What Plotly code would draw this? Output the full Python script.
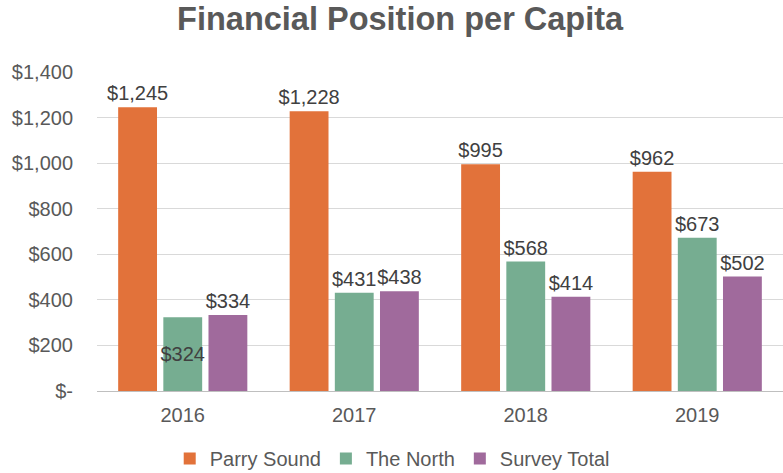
import plotly.graph_objects as go

years = ["2016", "2017", "2018", "2019"]
parry_sound = [1245, 1228, 995, 962]
the_north = [324, 431, 568, 673]
survey_total = [334, 438, 414, 502]
series_names = ["Parry Sound", "The North", "Survey Total"]
colors = ["#E2723A", "#76AD91", "#A06A9C"]
north_textpos = ["inside", "outside", "outside", "outside"]

y_tickvals = [0, 200, 400, 600, 800, 1000, 1200, 1400]
y_ticktext = ["$-", "$200", "$400", "$600", "$800", "$1,000", "$1,200", "$1,400"]

font_family = "Liberation Sans, Arial, sans-serif"
text_color = "#404040"

fig = go.Figure()
for name, vals, col, tp in [
    (series_names[0], parry_sound, colors[0], "outside"),
    (series_names[1], the_north, colors[1], north_textpos),
    (series_names[2], survey_total, colors[2], "outside"),
]:
    fig.add_trace(go.Bar(
        x=years, y=vals, name=name,
        marker=dict(color=col, line=dict(width=0)),
        text=[f"${v:,}" for v in vals],
        textposition=tp,
        insidetextanchor="middle",
        textangle=0,
        constraintext="none",
        textfont=dict(family=font_family, size=20, color=text_color),
        outsidetextfont=dict(family=font_family, size=20, color=text_color),
        insidetextfont=dict(family=font_family, size=20, color=text_color),
        cliponaxis=False,
    ))

fig.update_layout(
    width=783, height=473,
    margin=dict(l=97, r=0, t=72, b=82),
    paper_bgcolor="white", plot_bgcolor="white",
    barmode="group", bargap=0.21, bargroupgap=0.14,
    title=dict(text="<b>Financial Position per Capita</b>", x=0.511, xanchor="center",
               yref="container", y=0.961, yanchor="middle",
               font=dict(family=font_family, size=32.5, color="#595959")),
    font=dict(family=font_family, color="#595959"),
    xaxis=dict(showline=True, linecolor="#BFBFBF", linewidth=1, ticks="",
               ticklabelstandoff=6,
               tickfont=dict(size=20, color="#595959"), showgrid=False),
    yaxis=dict(range=[0, 1400], tickvals=y_tickvals, ticktext=y_ticktext,
               showgrid=True, gridcolor="#D9D9D9", gridwidth=1,
               zeroline=False, showline=False, ticks="",
               ticklabelstandoff=23,
               tickfont=dict(size=20, color="#595959")),
    legend=dict(orientation="h", x=0.106, xanchor="left",
                yref="container", y=0.072, yanchor="top",
                font=dict(size=20, color="#595959"),
                traceorder="normal"),
    showlegend=True,
)

fig.write_html("out.html", config={"displayModeBar": False},
               post_script="document.body.style.margin='0';")
